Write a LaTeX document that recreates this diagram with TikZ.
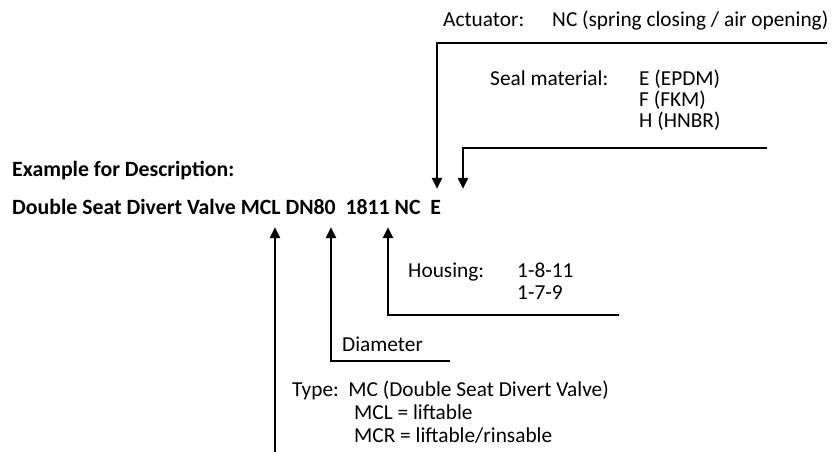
\documentclass[tikz,border=0pt]{standalone}
\usepackage{fontspec}
\setmainfont{Carlito}
\usetikzlibrary{positioning,arrows.meta}

\tikzset{
  txt/.style={font=\fontsize{18.2}{22}\selectfont, inner sep=0pt, anchor=base west},
  boldtxt/.style={txt, font=\fontsize{18.6}{22}\selectfont\bfseries},
  pointer/.style={line width=2.4pt, -{Triangle[width=8.5pt,length=9.5pt]}},
}

\begin{document}
\begin{tikzpicture}[x=0.03cm,y=-0.03cm]
\useasboundingbox (0,0) rectangle (834,452);
% description line
\node[boldtxt] (example) at (12,177) {Example for Description:};
\node[boldtxt] (desc) at (12,214) {Double Seat Divert Valve MCL DN80\ \ 1811 NC\ \ E};
% actuator
\node[txt] (act) at (443,27) {Actuator:};
\node[txt] (actval) at (552,27) {NC (spring closing / air opening)};
\coordinate (actend) at (827,43);
\coordinate (nctip) at (437,189);
\draw[pointer] (actend) -- (nctip |- actend) -- (nctip);
% seal material
\node[txt] (seal) at (490,86) {Seal material:};
\node[txt] (seal1) at (639,86) {E (EPDM)};
\node[txt] (seal2) at (639,107) {F (FKM)};
\node[txt] (seal3) at (639,128) {H (HNBR)};
\coordinate (sealend) at (767,148);
\coordinate (etip) at (463,189);
\draw[pointer] (sealend) -- (etip |- sealend) -- (etip);
% housing
\node[txt] (housing) at (408,277) {Housing:};
\node[txt] (housing1) at (517,277) {1-8-11};
\node[txt] (housing2) at (517,299) {1-7-9};
\coordinate (housingend) at (619,315);
\coordinate (housingtip) at (388,227);
\draw[pointer] (housingend) -- (housingtip |- housingend) -- (housingtip);
% diameter
\node[txt] (diam) at (342,351) {Diameter};
\coordinate (diamend) at (450,361);
\coordinate (diamtip) at (331,227);
\draw[pointer] (diamend) -- (diamtip |- diamend) -- (diamtip);
% type
\node[txt] (type) at (292,396) {Type:\ \ MC (Double Seat Divert Valve)};
\node[txt] (type1) at (354,419) {MCL = liftable};
\node[txt] (type2) at (354,442) {MCR = liftable/rinsable};
\coordinate (typeend) at (275,452);
\coordinate (typetip) at (275,227);
\draw[pointer] (typeend) -- (typetip);
\end{tikzpicture}
\end{document}
